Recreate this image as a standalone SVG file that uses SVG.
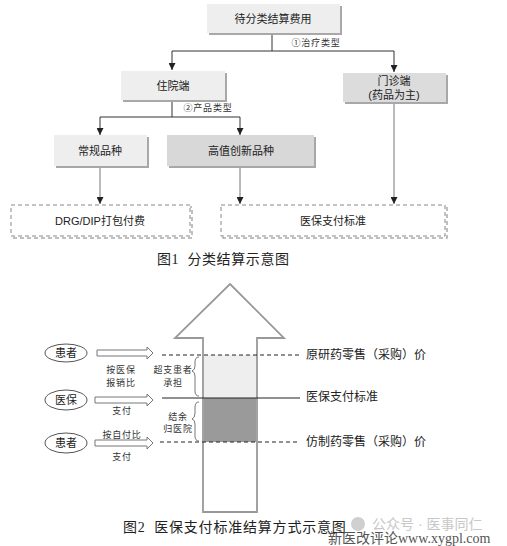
<svg xmlns="http://www.w3.org/2000/svg" width="507" height="546" viewBox="0 0 507 546">
<defs>
<style>
.t{font-family:"Liberation Sans","Noto Sans CJK SC",sans-serif;fill:#222;text-anchor:middle;dominant-baseline:central}
.b{font-size:11px}
.s{font-size:9px;fill:#333;letter-spacing:0.8px}
.cap{font-family:"Liberation Serif","Noto Sans CJK SC",serif;font-size:14px;fill:#222;dominant-baseline:central;white-space:pre}
.lbl{font-size:12px;text-anchor:start}
.shadow{fill:#a8a8a8}
.ln{stroke:#333;stroke-width:1;fill:none}
.lg{stroke:#777;stroke-width:1;fill:none}
.dash{fill:#fff;stroke:#888;stroke-width:1;stroke-dasharray:4 3}
.hl{stroke:#222;stroke-width:1;fill:none}
.hd{stroke:#222;stroke-width:1;fill:none;stroke-dasharray:4 3}
.ell{fill:#fff;stroke:#555;stroke-width:1}
.ha{fill:#fff;stroke:#777;stroke-width:1}
</style>
<marker id="ah" viewBox="0 0 10 10" refX="10" refY="5" markerWidth="7" markerHeight="7" markerUnits="userSpaceOnUse" orient="auto">
<path d="M0,0 L10,5 L0,10 z" fill="#222"/>
</marker>
</defs>
<rect width="507" height="546" fill="#fff"/>

<g id="connectors">
<path class="ln" d="M272,33 V51 M172,51 H394"/>
<path class="ln" d="M172,51 V70" marker-end="url(#ah)"/>
<path class="ln" d="M394,51 V72" marker-end="url(#ah)"/>
<path class="ln" d="M172,100 V117 M100,117 H240"/>
<path class="ln" d="M100,117 V135" marker-end="url(#ah)"/>
<path class="ln" d="M240,117 V135" marker-end="url(#ah)"/>
<path class="lg" d="M100,167 V204" marker-end="url(#ah)"/>
<path class="lg" d="M240,167 V204" marker-end="url(#ah)"/>
<path class="lg" d="M394,102 V204" marker-end="url(#ah)"/>
<text class="t s" x="316" y="43">①治疗类型</text>
<text class="t s" x="208" y="108">②产品类型</text>
</g>

<g id="n-top">
<rect class="shadow" x="209" y="6" width="133" height="29"/>
<rect x="207" y="4" width="133" height="29" fill="#eeeeee"/>
<text class="t b" x="273" y="19">待分类结算费用</text>
</g>
<g id="n-inpatient">
<rect class="shadow" x="123" y="73" width="104" height="29"/>
<rect x="121" y="71" width="104" height="29" fill="#eeeeee"/>
<text class="t b" x="173" y="86">住院端</text>
</g>
<g id="n-outpatient">
<rect class="shadow" x="345" y="75" width="103" height="29"/>
<rect x="343" y="73" width="103" height="29" fill="#dcdcdc"/>
<text class="t b" x="394" y="81">门诊端</text>
<text class="t b" x="394" y="95">(药品为主)</text>
</g>
<g id="n-regular">
<rect class="shadow" x="56" y="137" width="93" height="31"/>
<rect x="54" y="135" width="93" height="31" fill="#eeeeee"/>
<text class="t b" x="100" y="151">常规品种</text>
</g>
<g id="n-highvalue">
<rect class="shadow" x="169" y="137" width="147" height="31"/>
<rect x="167" y="135" width="147" height="31" fill="#d8d8d8"/>
<text class="t b" x="241" y="151">高值创新品种</text>
</g>
<g id="n-drg">
<rect x="13" y="207" width="179" height="31" fill="none" stroke="#aaa" stroke-width="1.5" stroke-dasharray="4 3"/>
<rect class="dash" x="11" y="205" width="179" height="31"/>
<text class="t b" x="100" y="221">DRG/DIP打包付费</text>
</g>
<g id="n-standard">
<rect x="223" y="207" width="224" height="31" fill="none" stroke="#aaa" stroke-width="1.5" stroke-dasharray="4 3"/>
<rect class="dash" x="221" y="205" width="224" height="31"/>
<text class="t b" x="333" y="221">医保支付标准</text>
</g>
<text class="cap" x="157" y="259" letter-spacing="0.6" xml:space="preserve">图1  分类结算示意图</text>

<g id="fig2">
<rect x="204" y="355" width="52" height="43" fill="#eeeeee"/>
<rect x="204" y="398" width="52" height="44" fill="#9a9a9a"/>
<path d="M230,284 L284,338 L257,338 L257,512 L203,512 L203,338 L175,338 Z" fill="none" stroke="#999" stroke-width="1.8"/>
<path class="hd" d="M162,355 H300"/>
<path class="hl" d="M162,398 H300"/>
<path class="hd" d="M160,442 H300"/>
<text class="t lbl" x="306" y="355">原研药零售（采购）价</text>
<text class="t lbl" x="306" y="397">医保支付标准</text>
<text class="t lbl" x="306" y="442">仿制药零售（采购）价</text>
<path d="M199,357 Q195,357 195,362 V366 Q195,370 192,371 Q195,372 195,376 V391 Q195,396 199,396" fill="none" stroke="#555" stroke-width="0.8"/>
<path d="M199,402 Q195,402 195,407 V413 Q195,418 192,419 Q195,420 195,424 V436 Q195,441 199,441" fill="none" stroke="#555" stroke-width="0.8"/>
<text class="t s" x="121" y="370">按医保</text>
<text class="t s" x="121" y="383">报销比</text>
<text class="t s" x="173" y="370">超支患者</text>
<text class="t s" x="173" y="383">承担</text>
<text class="t s" x="122" y="411">支付</text>
<text class="t s" x="178" y="417">结余</text>
<text class="t s" x="178" y="429">归医院</text>
<text class="t s" x="122" y="435">按自付比</text>
<text class="t s" x="122" y="457">支付</text>
</g>
<g id="e-patient1">
<ellipse class="ell" cx="66" cy="353" rx="21" ry="9"/>
<text class="t b" x="66" y="353" font-size="12">患者</text>
<path class="ha" d="M97,350 H147 V347 L153,353 L147,359 V356 H97 Z"/>
</g>
<g id="e-insurance">
<ellipse class="ell" cx="66" cy="400" rx="21" ry="10"/>
<text class="t b" x="66" y="400" font-size="12">医保</text>
<path class="ha" d="M95,397 H147 V394 L153,400 L147,406 V403 H95 Z"/>
</g>
<g id="e-patient2">
<ellipse class="ell" cx="66" cy="443" rx="21" ry="10"/>
<text class="t b" x="66" y="443" font-size="12">患者</text>
<path class="ha" d="M95,440 H147 V437 L153,443 L147,449 V446 H95 Z"/>
</g>
<text class="cap" x="123" y="527" letter-spacing="0.8" xml:space="preserve">图2  医保支付标准结算方式示意图</text>
<circle cx="358" cy="524" r="7" fill="#cfcfcf"/>
<text x="372" y="529" font-family="Liberation Sans,Noto Sans CJK SC,sans-serif" font-size="14" fill="#c8c8c8">公众号 · 医事同仁</text>
<text x="328" y="543" font-family="Liberation Serif,Noto Sans CJK SC,serif" font-size="14" fill="#555">新医改评论www.xygpl.com</text>
</svg>
